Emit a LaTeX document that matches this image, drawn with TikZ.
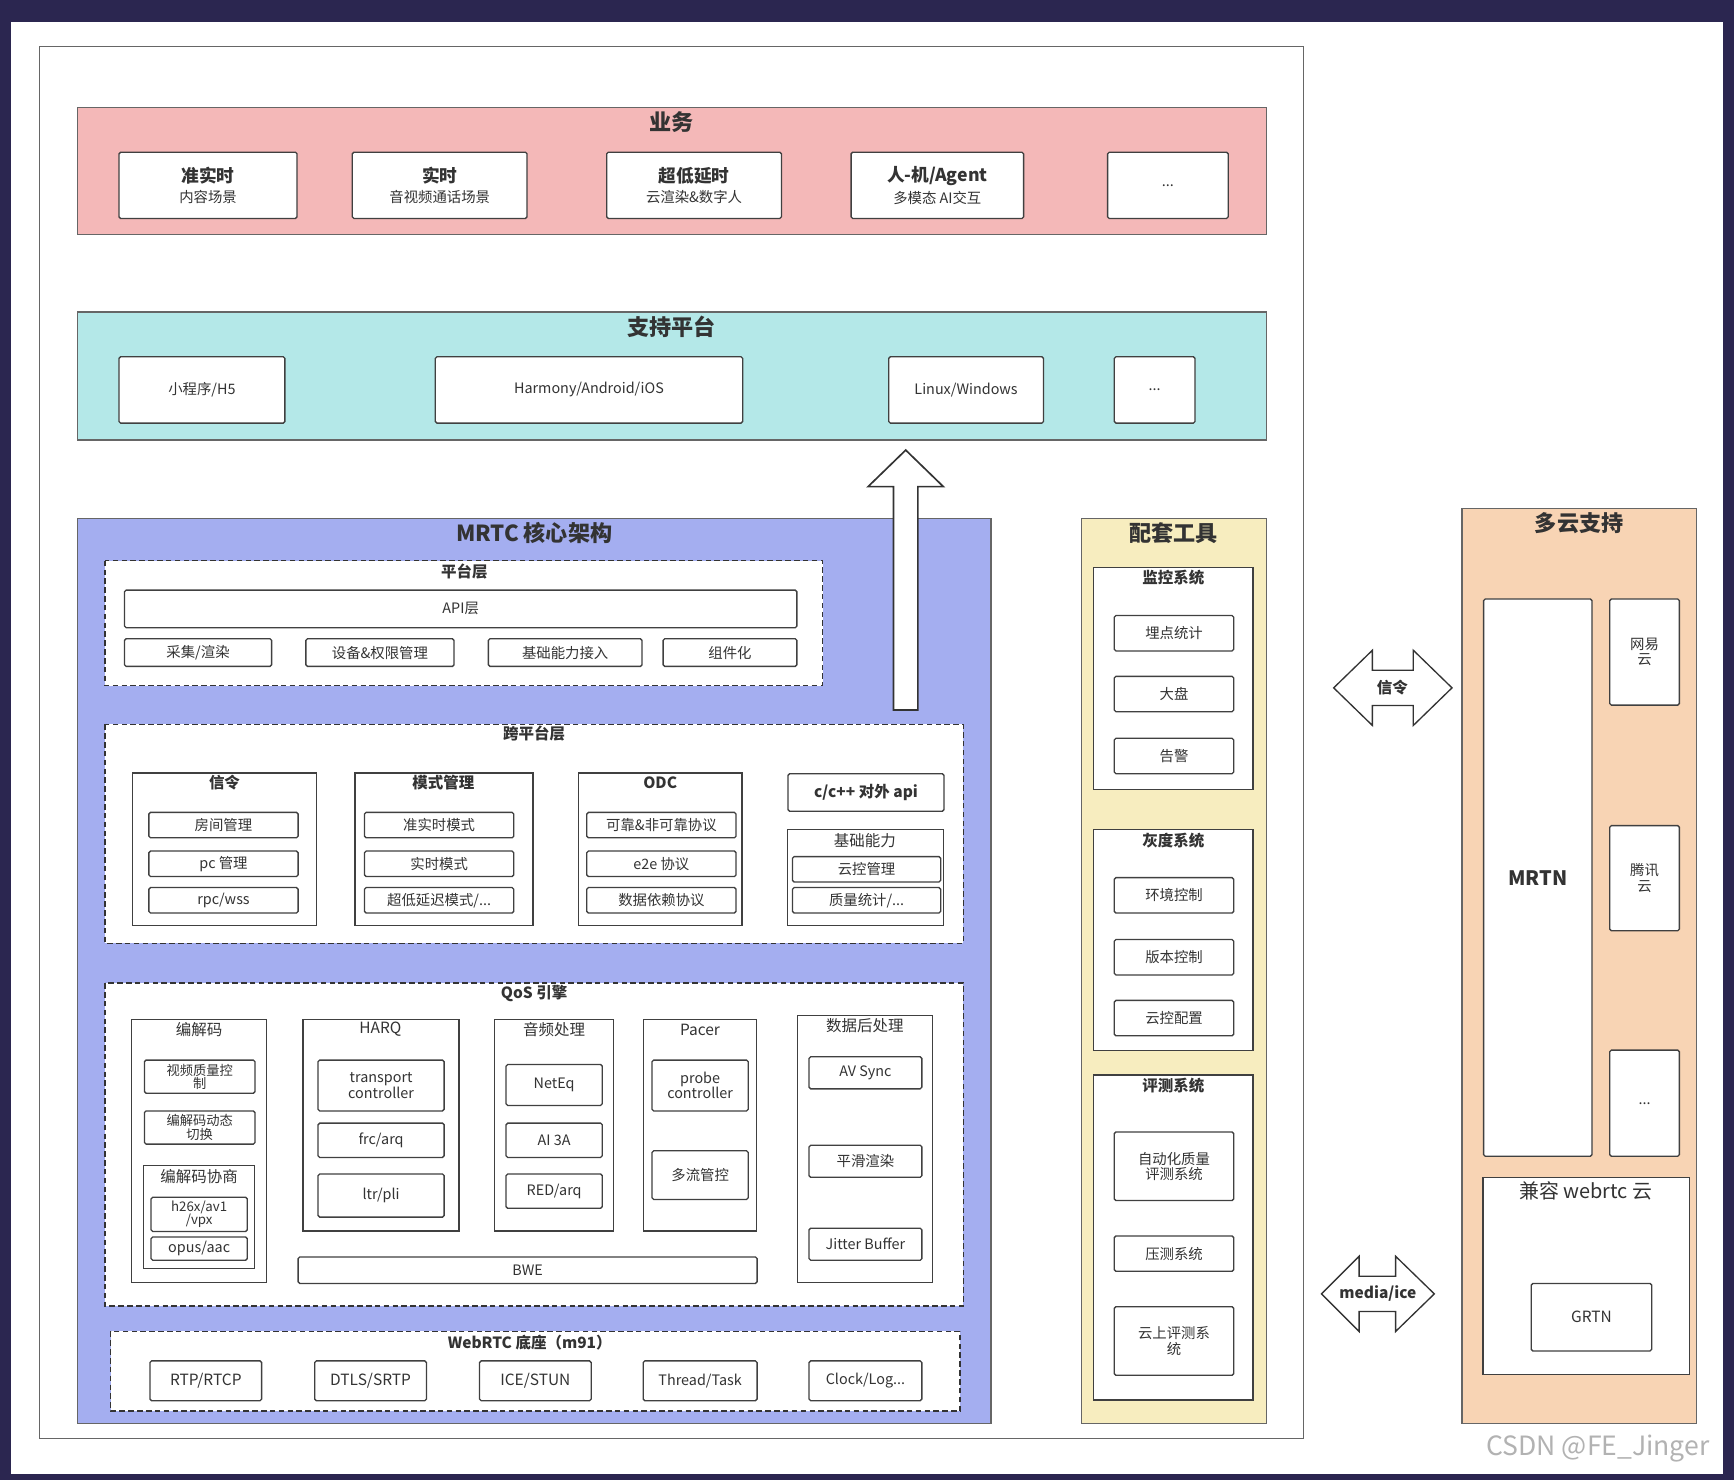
\documentclass[tikz,border=0pt]{standalone}
\usepackage{fontspec}
\setmainfont{Noto Sans CJK SC}
\begin{document}
\begin{tikzpicture}[x=1pt,y=-1pt,
 bx/.style={draw=black!75,line width=1.2pt,fill=white,rounded corners=1.5pt,inner sep=0pt,align=center,font=\fontsize{13}{14}\selectfont,text=black!80},
 dsh/.style={draw=black!80,line width=1.2pt,dashed,dash pattern=on 5pt off 3pt,fill=white},
 ct/.style={draw=black!75,line width=1.2pt,fill=white},
 t1/.style={font=\fontsize{20}{22}\selectfont\bfseries,text=black!80},
 t2/.style={font=\fontsize{14}{16}\selectfont\bfseries,text=black!80},
 t3/.style={font=\fontsize{14}{16}\selectfont,text=black!80}]
\newcommand\R[7][]{\node[bx,#1,minimum width={#5-#3},minimum height={#6-#4},anchor=north west] (#2) at (#3,#4) {#7};}
\useasboundingbox (0,0) rectangle (1568,1338);
\fill[fill={rgb,255:red,43;green,38;blue,80}] (0,0) rectangle (1568,1338);
\fill[white] (10,20) rectangle (1558,1333);
\draw[black!60,line width=1.2pt] (36,42) rectangle (1179,1301);
% business
\draw[line width=1.2pt,draw=black!60,fill={rgb,255:red,244;green,184;blue,184}] (70,97) rectangle (1145,212);
\node[t1] (tyw) at (607,110) {业务};
\R{b1}{107}{137}{268}{197}{{\bfseries\fontsize{16}{18}\selectfont 准实时}\\[4pt]内容场景}
\R{b2}{318}{137}{476}{197}{{\bfseries\fontsize{16}{18}\selectfont 实时}\\[4pt]音视频通话场景}
\R{b3}{548}{137}{706}{197}{{\bfseries\fontsize{16}{18}\selectfont 超低延时}\\[4pt]云渲染\&数字人}
\R{b4}{769}{137}{925}{197}{{\bfseries\fontsize{16}{18}\selectfont 人-机/Agent}\\[4pt]多模态 AI交互}
\R{b5}{1001}{137}{1110}{197}{...}
% platform
\draw[line width=1.2pt,draw=black!60,fill={rgb,255:red,180;green,232;blue,232}] (70,282) rectangle (1145,398);
\node[t1] (tzc) at (607,296) {支持平台};
\R{p1}{107}{322}{257}{382}{小程序/H5}
\R{p2}{393}{322}{671}{382}{Harmony/Android/iOS}
\R{p3}{803}{322}{943}{382}{Linux/Windows}
\R{p4}{1007}{322}{1080}{382}{...}
% MRTC
\draw[line width=1.2pt,draw=black!60,fill={rgb,255:red,164;green,174;blue,240}] (70,469) rectangle (896,1287);
\node[t1] (tm) at (483,482) {MRTC 核心架构};
\draw[black!80,line width=1.5pt,fill=white] (808,642)--(808,440)--(785,440)--(819,407)--(853,440)--(830,440)--(830,642)--cycle;
% platform layer
\draw[dsh] (95,507) rectangle (744,620);
\node[t2] (tpl) at (420,517) {平台层};
\R{api}{112}{533}{720}{567}{API层}
\R{c1}{112}{577}{245}{602}{采集/渲染}
\R{c2}{276}{577}{410}{602}{设备\&权限管理}
\R{c3}{441}{577}{580}{602}{基础能力接入}
\R{c4}{599}{577}{720}{602}{组件化}
% cross platform
\draw[dsh] (95,655) rectangle (871,853);
\node[t2] (tkp) at (483,663) {跨平台层};
\draw[ct] (120,699) rectangle (286,837); \node[t2] (txl) at (203,708) {信令};
\R{x1}{134}{734}{269}{757}{房间管理}
\R{x2}{134}{769}{269}{792}{pc 管理}
\R{x3}{134}{802}{269}{825}{rpc/wss}
\draw[ct] (321,699) rectangle (482,837); \node[t2] (tms) at (401,708) {模式管理};
\R{m1}{329}{734}{464}{757}{准实时模式}
\R{m2}{329}{769}{464}{792}{实时模式}
\R{m3}{329}{802}{464}{825}{超低延迟模式/...}
\draw[ct] (523,699) rectangle (671,837); \node[t2] (todc) at (597,708) {ODC};
\R{o1}{530}{734}{665}{757}{可靠\&非可靠协议}
\R{o2}{530}{769}{665}{792}{e2e 协议}
\R{o3}{530}{802}{665}{825}{数据依赖协议}
\R[font=\fontsize{14}{16}\selectfont\bfseries]{capi}{712}{699}{853}{733}{c/c++ 对外 api}
\draw[ct] (712,750) rectangle (853,837); \node[t3] (tjc) at (782,760) {基础能力};
\R{j1}{716}{774}{850}{797}{云控管理}
\R{j2}{716}{802}{850}{825}{质量统计/...}
% QoS
\draw[dsh] (95,889) rectangle (871,1181);
\node[t2] (tq) at (483,898) {QoS 引擎};
\draw[ct] (119,922) rectangle (241,1160); \node[t3] (tbj) at (180,931) {编解码};
\R[font=\fontsize{12}{12}\selectfont]{e1}{130}{958}{230}{988}{视频质量控\\制}
\R[font=\fontsize{12}{12}\selectfont]{e2}{130}{1004}{230}{1034}{编解码动态\\切换}
\draw[ct] (130,1054) rectangle (230,1147); \node[t3] (txs) at (180,1064) {编解码协商};
\R[font=\fontsize{12}{12}\selectfont]{e3}{136}{1082}{223}{1113}{h26x/av1\\/vpx}
\R{e4}{136}{1118}{223}{1139}{opus/aac}
\draw[ct] (274,922) rectangle (415,1113); \node[t3] (th) at (344,931) {HARQ};
\R{h1}{287}{958}{401}{1004}{transport\\controller}
\R{h2}{287}{1015}{401}{1046}{frc/arq}
\R{h3}{287}{1061}{401}{1100}{ltr/pli}
\draw[ct] (447,922) rectangle (555,1113); \node[t3] (ta) at (501,931) {音频处理};
\R{a1}{457}{962}{544}{999}{NetEq}
\R{a2}{457}{1015}{544}{1046}{AI 3A}
\R{a3}{457}{1061}{544}{1092}{RED/arq}
\draw[ct] (582,922) rectangle (684,1113); \node[t3] (tp) at (633,931) {Pacer};
\R{q1}{589}{958}{676}{1004}{probe\\controller}
\R{q2}{589}{1040}{676}{1084}{多流管控}
\R{bwe}{269}{1136}{684}{1160}{BWE}
\draw[ct] (721,918) rectangle (843,1160); \node[t3] (td) at (782,927) {数据后处理};
\R{d1}{731}{955}{833}{984}{AV Sync}
\R{d2}{731}{1035}{833}{1064}{平滑渲染}
\R{d3}{731}{1110}{833}{1139}{Jitter Buffer}
% WebRTC
\draw[dsh] (100,1204) rectangle (868,1276);
\node[t2] (tw) at (479,1214) {WebRTC 底座（m91）};
\R[font=\fontsize{14}{16}\selectfont]{w1}{135}{1230}{236}{1266}{RTP/RTCP}
\R[font=\fontsize{14}{16}\selectfont]{w2}{284}{1230}{385}{1266}{DTLS/SRTP}
\R[font=\fontsize{14}{16}\selectfont]{w3}{433}{1230}{534}{1266}{ICE/STUN}
\R{w4}{581}{1230}{684}{1266}{Thread/Task}
\R{w5}{731}{1230}{833}{1266}{Clock/Log...}
% tools
\draw[line width=1.2pt,draw=black!60,fill={rgb,255:red,247;green,237;blue,191}] (978,469) rectangle (1145,1287);
\node[t1] (tt) at (1061,482) {配套工具};
\draw[ct] (989,513) rectangle (1133,714); \node[t2] (tjk) at (1061,522) {监控系统};
\R{k1}{1007}{556}{1115}{588}{埋点统计}
\R{k2}{1007}{611}{1115}{643}{大盘}
\R{k3}{1007}{667}{1115}{699}{告警}
\draw[ct] (989,750) rectangle (1133,950); \node[t2] (thd) at (1061,760) {灰度系统};
\R{g1}{1007}{793}{1115}{825}{环境控制}
\R{g2}{1007}{849}{1115}{881}{版本控制}
\R{g3}{1007}{904}{1115}{936}{云控配置}
\draw[ct] (989,972) rectangle (1133,1266); \node[t2] (tpc) at (1061,982) {评测系统};
\R{r1}{1007}{1023}{1115}{1085}{自动化质量\\评测系统}
\R{r2}{1007}{1117}{1115}{1149}{压测系统}
\R{r3}{1007}{1181}{1115}{1243}{云上评测系\\统}
% multi cloud
\draw[line width=1.2pt,draw=black!60,fill={rgb,255:red,248;green,212;blue,180}] (1322,460) rectangle (1534,1287);
\node[t1] (tdy) at (1428,473) {多云支持};
\R[font=\fontsize{18}{20}\selectfont\bfseries]{mrtn}{1341}{541}{1439}{1045}{MRTN}
\R{y1}{1455}{541}{1518}{637}{网易\\云}
\R{y2}{1455}{746}{1518}{841}{腾讯\\云}
\R{y3}{1455}{949}{1518}{1045}{...}
\draw[ct] (1341,1065) rectangle (1528,1243); \node[font=\fontsize{18}{20}\selectfont,text=black!80] (tjr) at (1434,1077) {兼容 webrtc 云};
\R[font=\fontsize{14}{16}\selectfont]{grtn}{1384}{1160}{1493}{1221}{GRTN}
% double arrows
\draw[black!80,line width=1.2pt,fill=white] (1206,622)--(1241,588)--(1241,606)--(1278,606)--(1278,588)--(1313,622)--(1278,656)--(1278,638)--(1241,638)--(1241,656)--cycle;
\node[t2] (sig) at (1259,622) {信令};
\draw[black!80,line width=1.2pt,fill=white] (1195,1170)--(1229,1136)--(1229,1154)--(1262,1154)--(1262,1136)--(1297,1170)--(1262,1204)--(1262,1186)--(1229,1186)--(1229,1204)--cycle;
\node[t2] (med) at (1246,1170) {media/ice};
\node[font=\fontsize{24}{26}\selectfont,text=black!30] (wm) at (1445,1310) {CSDN @FE\_Jinger};
\end{tikzpicture}
\end{document}
